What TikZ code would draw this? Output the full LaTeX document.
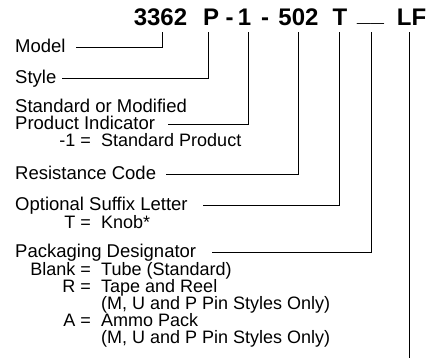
\documentclass[tikz,border=0pt]{standalone}
\usepackage{fontspec}
\setmainfont{Liberation Sans}
\usepackage{tikz}

\begin{document}
\begin{tikzpicture}[x=1pt,y=-1pt,
  partno/.style={font=\fontsize{24}{24}\selectfont\bfseries,inner sep=0pt,anchor=base,text depth=0pt},
  entry/.style={font=\fontsize{18.5}{18.5}\selectfont,inner sep=0pt,anchor=base west,text height=11pt,text depth=1pt},
  subentry/.style={entry,font=\fontsize{18}{18}\selectfont},
  codetext/.style={subentry,anchor=base east},
  lead/.style={line width=0.9pt,shorten <=6.5pt}]
\useasboundingbox (0,0) rectangle (438,360);
% part number
\node[partno] (model) at (160.5,25.5) {3362};
\node[partno] (style) at (211,25.5) {P};
\node[partno] (dasha) at (229.5,25.5) {-};
\node[partno] (ind) at (244.5,25.5) {1};
\node[partno] (dashb) at (265,25.5) {-};
\node[partno] (res) at (298.5,25.5) {502};
\node[partno] (suffix) at (340,25.5) {T};
\node[partno] (pack) at (370.5,25.5) {\raisebox{4pt}{\_\_}};
\node[partno] (lf) at (411.5,25.5) {LF};
% field names
\node[entry] (lmodel) at (15,52) {Model};
\node[entry] (lstyle) at (15,83) {Style};
\node[entry] (lstd) at (15,112) {Standard or Modified};
\node[entry] (lind) at (15,129) {Product Indicator};
\node[codetext] (cind) at (91,146) {-1 =};
\node[subentry] (vind) at (101,146) {Standard Product};
\node[entry] (lres) at (15,179.5) {Resistance Code};
\node[entry] (lsuffix) at (15,210.5) {Optional Suffix Letter};
\node[codetext] (csuffix) at (91,228) {T =};
\node[subentry] (vsuffix) at (101,228) {Knob*};
\node[entry] (lpack) at (15,257) {Packaging Designator};
\node[codetext] (cblank) at (91,275) {Blank =};
\node[subentry] (vblank) at (101,275) {Tube (Standard)};
\node[codetext] (creel) at (91,292) {R =};
\node[subentry] (vreel) at (101,292) {Tape and Reel};
\node[subentry] (nreel) at (101,309) {(M, U and P Pin Styles Only)};
\node[codetext] (cammo) at (91,326) {A =};
\node[subentry] (vammo) at (101,326) {Ammo Pack};
\node[subentry] (nammo) at (101,343) {(M, U and P Pin Styles Only)};
\coordinate (lfend) at (409,358);
% leaders
\draw[lead,shorten >=10.5pt] ([xshift=1.5pt]model.south) |- (lmodel.east);
\draw[lead,shorten >=5.5pt] ([xshift=-3pt]style.south) |- (lstyle.east);
\draw[lead,shorten >=13pt] ([xshift=3.5pt]ind.south) |- (lind.east);
\draw[lead,shorten >=10pt] ([xshift=-0.5pt]res.south) |- (lres.east);
\draw[lead,shorten >=15pt] ([xshift=-1pt]suffix.south) |- (lsuffix.east);
\draw[lead,shorten >=15.5pt] ([xshift=0.5pt]pack.south) |- (lpack.east);
\draw[lead] ([xshift=-2.5pt]lf.south) -- (lfend);
\end{tikzpicture}
\end{document}
